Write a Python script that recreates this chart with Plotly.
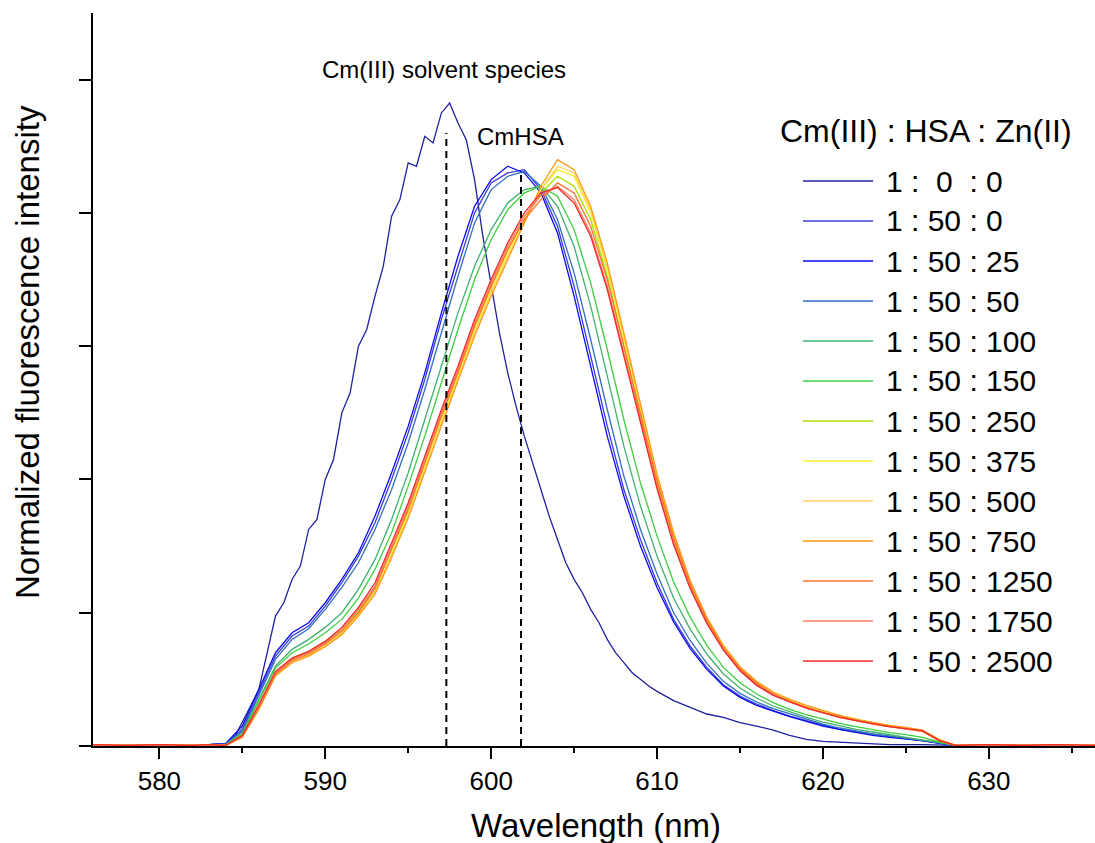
import plotly.graph_objects as go

# ---------------- data ----------------
wavelength = [576, 578, 580, 582, 583,
              584, 585, 586, 587, 588, 589, 590, 591, 592, 593, 594, 595, 596, 597,
              598, 599, 600, 601, 602, 603, 604, 605, 606, 607, 608, 609, 610, 611,
              612, 613, 614, 615, 616, 617, 618, 619, 620, 621, 622, 623, 624, 625,
              626, 627, 628,
              630, 632, 634, 636.4]

base_left = [0.002, 0.001, 0.002, 0.001, 0.002]
base_right = [0.002, 0.001, 0.002, 0.001]

# the 1:0:0 (solvent species) spectrum, read on a finer wavelength grid
wavelength_solvent = [576, 578, 580, 582, 583,
                      584.0, 584.5, 585.0, 585.5, 586.0, 586.5, 587.0, 587.5, 588.0, 588.5,
                      589.0, 589.5, 590.0, 590.5, 591.0, 591.5, 592.0, 592.5, 593.0, 593.5,
                      594.0, 594.5, 595.0, 595.5, 596.0, 596.5, 597.0, 597.5, 598.0, 598.5,
                      599.0, 599.5, 600.0, 600.5, 601.0, 601.5, 602.0, 602.5, 603.0, 603.5,
                      604.0, 604.5, 605.0, 605.5, 606.0, 606.5, 607.0, 607.5, 608.0, 608.5,
                      609.0, 609.5, 610.0, 611, 612, 613, 614, 615, 616, 617, 618, 619, 620,
                      622, 624, 626, 628, 630, 632, 634, 636.4]
s_1_0_0 = [0.002, 0.001, 0.002, 0.001, 0.002,
           0.004, 0.012, 0.035, 0.06, 0.085, 0.14, 0.195, 0.215, 0.25, 0.27,
           0.325, 0.34, 0.40, 0.43, 0.50, 0.53, 0.60, 0.625, 0.675, 0.72,
           0.795, 0.82, 0.875, 0.87, 0.915, 0.905, 0.95, 0.965, 0.935, 0.91,
           0.85, 0.765, 0.695, 0.62, 0.56, 0.51, 0.465, 0.425, 0.385, 0.345,
           0.31, 0.275, 0.25, 0.23, 0.205, 0.185, 0.16, 0.14, 0.125, 0.11,
           0.1, 0.09, 0.082, 0.068, 0.058, 0.048, 0.043, 0.035, 0.03, 0.024, 0.016, 0.01, 0.007,
           0.004, 0.002, 0.002, 0.001, 0.002, 0.001, 0.002, 0.001]

legend_labels = ["1 :\u00a0\u00a00\u00a0\u00a0: 0", "1 : 50 : 0", "1 : 50 : 25", "1 : 50 : 50",
                 "1 : 50 : 100", "1 : 50 : 150", "1 : 50 : 250", "1 : 50 : 375",
                 "1 : 50 : 500", "1 : 50 : 750", "1 : 50 : 1250", "1 : 50 : 1750",
                 "1 : 50 : 2500"]

s_1_50_0 = [0.003, 0.025, 0.08, 0.135, 0.165, 0.18, 0.21, 0.245, 0.285, 0.335, 0.40, 0.47, 0.55,
            0.64, 0.72, 0.80, 0.845, 0.86, 0.865, 0.835, 0.78, 0.69, 0.585, 0.48, 0.385, 0.31,
            0.245, 0.19, 0.15, 0.118, 0.092, 0.075, 0.063, 0.053, 0.045, 0.038, 0.031, 0.025,
            0.021, 0.017, 0.014, 0.011, 0.008, 0.004, 0.001]
s_1_50_25 = [0.004, 0.03, 0.085, 0.14, 0.17, 0.185, 0.215, 0.25, 0.29, 0.345, 0.41, 0.48, 0.56,
             0.65, 0.735, 0.81, 0.85, 0.87, 0.86, 0.83, 0.77, 0.675, 0.57, 0.465, 0.375, 0.3,
             0.238, 0.186, 0.146, 0.115, 0.09, 0.073, 0.061, 0.052, 0.044, 0.037, 0.03, 0.025,
             0.02, 0.016, 0.013, 0.011, 0.008, 0.004, 0.001]
s_1_50_50 = [0.003, 0.022, 0.075, 0.13, 0.16, 0.176, 0.205, 0.238, 0.275, 0.325, 0.385, 0.455,
             0.535, 0.62, 0.705, 0.785, 0.835, 0.855, 0.862, 0.84, 0.79, 0.71, 0.61, 0.505, 0.405,
             0.325, 0.258, 0.2, 0.158, 0.124, 0.097, 0.079, 0.066, 0.056, 0.048, 0.04, 0.033,
             0.027, 0.022, 0.018, 0.015, 0.012, 0.009, 0.005, 0.001]
s_1_50_100 = [0.002, 0.02, 0.07, 0.12, 0.145, 0.16, 0.178, 0.2, 0.235, 0.28, 0.34, 0.41, 0.49,
              0.57, 0.65, 0.72, 0.775, 0.815, 0.835, 0.84, 0.81, 0.75, 0.66, 0.555, 0.45, 0.36,
              0.285, 0.222, 0.175, 0.138, 0.108, 0.087, 0.072, 0.06, 0.051, 0.043, 0.036, 0.03,
              0.025, 0.021, 0.017, 0.014, 0.01, 0.005, 0.001]
s_1_50_150 = [0.002, 0.018, 0.067, 0.117, 0.14, 0.153, 0.17, 0.19, 0.222, 0.265, 0.32, 0.39,
              0.465, 0.545, 0.625, 0.7, 0.76, 0.805, 0.83, 0.84, 0.825, 0.775, 0.695, 0.595, 0.49,
              0.395, 0.315, 0.246, 0.193, 0.151, 0.118, 0.095, 0.078, 0.065, 0.055, 0.047, 0.04,
              0.034, 0.029, 0.024, 0.02, 0.017, 0.013, 0.006, 0.001]
s_1_50_250 = [0.001, 0.015, 0.06, 0.11, 0.132, 0.142, 0.157, 0.175, 0.203, 0.238, 0.295, 0.355,
              0.425, 0.495, 0.56, 0.63, 0.69, 0.745, 0.79, 0.83, 0.855, 0.84, 0.79, 0.705, 0.6,
              0.495, 0.395, 0.31, 0.24, 0.187, 0.146, 0.115, 0.093, 0.078, 0.067, 0.058, 0.051,
              0.044, 0.038, 0.034, 0.03, 0.026, 0.022, 0.009, 0.001]
s_1_50_375 = [0.001, 0.014, 0.058, 0.108, 0.128, 0.138, 0.152, 0.17, 0.198, 0.232, 0.288, 0.35,
              0.42, 0.49, 0.555, 0.625, 0.685, 0.74, 0.79, 0.835, 0.865, 0.855, 0.8, 0.715, 0.61,
              0.505, 0.402, 0.315, 0.244, 0.19, 0.148, 0.117, 0.095, 0.079, 0.068, 0.059, 0.052,
              0.045, 0.039, 0.035, 0.031, 0.027, 0.023, 0.009, 0.001]
s_1_50_500 = [0.001, 0.013, 0.056, 0.106, 0.126, 0.136, 0.15, 0.168, 0.196, 0.23, 0.285, 0.345,
              0.415, 0.485, 0.55, 0.62, 0.68, 0.735, 0.785, 0.835, 0.87, 0.86, 0.805, 0.72, 0.615,
              0.51, 0.405, 0.318, 0.246, 0.192, 0.15, 0.118, 0.096, 0.08, 0.069, 0.06, 0.052,
              0.046, 0.04, 0.035, 0.031, 0.027, 0.023, 0.009, 0.001]
s_1_50_750 = [0.001, 0.013, 0.055, 0.105, 0.125, 0.135, 0.149, 0.167, 0.195, 0.228, 0.283, 0.342,
              0.412, 0.48, 0.548, 0.615, 0.675, 0.73, 0.785, 0.84, 0.88, 0.865, 0.81, 0.725, 0.62,
              0.512, 0.408, 0.32, 0.248, 0.193, 0.151, 0.119, 0.097, 0.081, 0.07, 0.061, 0.053,
              0.046, 0.04, 0.035, 0.031, 0.028, 0.024, 0.01, 0.001]
s_1_50_1250 = [0.001, 0.014, 0.058, 0.108, 0.128, 0.138, 0.153, 0.172, 0.2, 0.236, 0.295, 0.355,
               0.425, 0.495, 0.56, 0.63, 0.69, 0.745, 0.79, 0.82, 0.845, 0.83, 0.78, 0.7, 0.6,
               0.498, 0.398, 0.312, 0.243, 0.189, 0.147, 0.116, 0.094, 0.078, 0.067, 0.058, 0.05,
               0.044, 0.038, 0.033, 0.029, 0.026, 0.022, 0.009, 0.001]
s_1_50_1750 = [0.001, 0.015, 0.06, 0.11, 0.13, 0.14, 0.155, 0.175, 0.205, 0.24, 0.3, 0.36, 0.43,
               0.5, 0.565, 0.635, 0.695, 0.75, 0.795, 0.826, 0.84, 0.82, 0.77, 0.69, 0.59, 0.49,
               0.39, 0.305, 0.238, 0.185, 0.145, 0.114, 0.092, 0.077, 0.066, 0.057, 0.05, 0.043,
               0.038, 0.033, 0.029, 0.026, 0.022, 0.008, 0.001]
s_1_50_2500 = [0.001, 0.016, 0.062, 0.112, 0.132, 0.142, 0.157, 0.178, 0.208, 0.245, 0.305, 0.365,
               0.435, 0.505, 0.57, 0.64, 0.7, 0.755, 0.8, 0.83, 0.838, 0.815, 0.765, 0.685, 0.585,
               0.485, 0.386, 0.302, 0.236, 0.184, 0.144, 0.113, 0.091, 0.076, 0.066, 0.057, 0.05,
               0.043, 0.038, 0.033, 0.029, 0.026, 0.023, 0.008, 0.001]

hsa_series = [s_1_50_0, s_1_50_25, s_1_50_50, s_1_50_100, s_1_50_150, s_1_50_250,
              s_1_50_375, s_1_50_500, s_1_50_750, s_1_50_1250, s_1_50_1750, s_1_50_2500]

colors = ["#1f1fa0", "#3a3ad8", "#0a0af0", "#2f6fc0", "#40b070", "#3ccf3c", "#a8e000",
          "#f0f020", "#ffd060", "#ff9a10", "#ff7030", "#ff7a60", "#f02a2a"]

peak_positions = [597.3, 601.8]
peak_tops = [0.92, 0.862]
peak_labels = ["Cm(III) solvent species", "CmHSA"]
peak_label_pos = [(597.15, 1.015), (601.75, 0.914)]

# ---------------- figure ----------------
W, H = 1095, 843
L, R, T, B = 93, 0, 13, 97
pw, ph = W - L - R, H - T - B

def px(x):
    return (x - L) / pw

def py(y):
    return (H - B - y) / ph

fig = go.Figure()
fig.add_trace(go.Scatter(x=wavelength_solvent, y=s_1_0_0, mode="lines", name=legend_labels[0],
                         line=dict(color=colors[0], width=1.3), showlegend=False))
for name, vals, col in zip(legend_labels[1:], hsa_series, colors[1:]):
    fig.add_trace(go.Scatter(x=wavelength, y=base_left + vals + base_right, mode="lines",
                             name=name, line=dict(color=col, width=1.3), showlegend=False))

for xp, yt in zip(peak_positions, peak_tops):
    fig.add_trace(go.Scatter(x=[xp, xp], y=[0, yt], mode="lines", showlegend=False,
                             line=dict(color="black", width=2, dash="7px,5px")))

font_main = "Liberation Sans, Arial, sans-serif"

annotations = []
for txt, (ax, ay) in zip(peak_labels, peak_label_pos):
    annotations.append(dict(x=ax, y=ay, xref="x", yref="y", text=txt, showarrow=False,
                            xanchor="center", yanchor="middle",
                            font=dict(family=font_main, size=24, color="black")))

# legend (manual)
annotations.append(dict(x=px(926), y=py(131), xref="paper", yref="paper",
                        text="Cm(III) : HSA : Zn(II)", showarrow=False,
                        xanchor="center", yanchor="middle",
                        font=dict(family=font_main, size=32, color="black")))
shapes = []
for i, (lab, col) in enumerate(zip(legend_labels, colors)):
    yy = 181 + 40 * i
    shapes.append(dict(type="line", xref="paper", yref="paper", x0=px(803), x1=px(873),
                       y0=py(yy), y1=py(yy), line=dict(color=col, width=1.5)))
    annotations.append(dict(x=px(884), y=py(yy), xref="paper", yref="paper", text=lab,
                            showarrow=False, xanchor="left", yanchor="middle",
                            font=dict(family=font_main, size=30, color="black")))

# axis titles
annotations.append(dict(x=px(27), y=py(352), xref="paper", yref="paper",
                        text="Normalized fluorescence intensity", textangle=-90, showarrow=False,
                        xanchor="center", yanchor="middle",
                        font=dict(family=font_main, size=33, color="black")))
annotations.append(dict(x=px(596), y=py(805), xref="paper", yref="paper",
                        xanchor="center", yanchor="top",
                        text="Wavelength (nm)", showarrow=False,
                        font=dict(family=font_main, size=33, color="black")))

fig.update_layout(
    width=W, height=H, margin=dict(l=L, r=R, t=T, b=B, pad=0),
    paper_bgcolor="white", plot_bgcolor="white",
    showlegend=False, annotations=annotations, shapes=shapes,
    xaxis=dict(range=[576.0, 636.4], showgrid=False, zeroline=False, showline=True,
               linecolor="black", linewidth=2, ticks="outside", ticklen=11, tickwidth=2,
               tickcolor="black", tick0=580, dtick=10,
               minor=dict(dtick=5, tick0=575, ticks="outside", ticklen=5, tickwidth=2,
                          tickcolor="black"),
               tickfont=dict(family=font_main, size=26, color="black")),
    yaxis=dict(range=[0, 1.1], showgrid=False, zeroline=False, showline=True,
               linecolor="black", linewidth=2, ticks="outside", ticklen=12, tickwidth=2,
               tickcolor="black", tick0=0, dtick=0.2, showticklabels=False),
)

fig.write_html("out.html")
